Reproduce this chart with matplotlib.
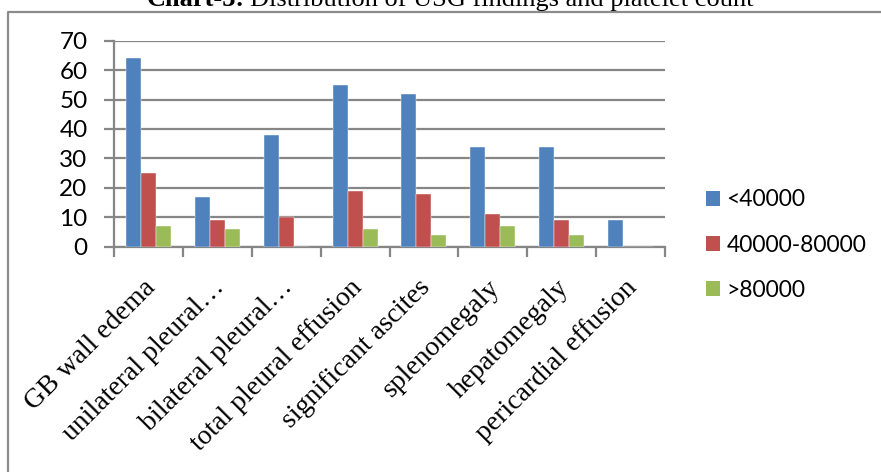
import matplotlib
matplotlib.use("Agg")
import matplotlib.pyplot as plt
import matplotlib.transforms as mtransforms
from matplotlib.patches import Patch
from matplotlib.lines import Line2D
import numpy as np

categories = ['GB wall edema', 'unilateral pleural…', 'bilateral pleural…',
              'total pleural effusion', 'significant ascites', 'splenomegaly',
              'hepatomegaly', 'pericardial effusion']
below_40k = [64, 17, 38, 55, 52, 34, 34, 9]
mid_40k_80k = [25, 9, 10, 19, 18, 11, 9, 0]
above_80k = [7, 6, 0, 6, 4, 7, 4, 0]
series_names = ['<40000', '40000-80000', '>80000']
colors = ['#4F81BD', '#C0504D', '#9BBB59']

W, H = 881, 472
fig = plt.figure(figsize=(W / 100, H / 100), dpi=100)
fig.patch.set_facecolor('white')

# caixa do gráfico (só topo e esquerda aparecem)
fig.add_artist(Line2D([8 / W, 8 / W, 1.0], [0.0, 1 - 12 / H, 1 - 12 / H],
                      transform=fig.transFigure, color='#8C8C8C', linewidth=1.6))

# título (cortado no topo, como na imagem original)
fig.text(147 / W, 1 - 6 / H, 'Chart-3:', family='Liberation Serif', fontweight='bold',
         fontsize=19, ha='left', va='baseline')
fig.text(250 / W, 1 - 6 / H, 'Distribution of USG findings and platelet count',
         family='Liberation Serif', fontsize=19, ha='left', va='baseline')

ax = fig.add_axes([114 / W, 1 - 246.7 / H, (665 - 114) / W, (246.7 - 40.7) / H])
x = np.arange(len(categories))
w = 15 / 69
for k, (vals, c, name) in enumerate(zip([below_40k, mid_40k_80k, above_80k], colors, series_names)):
    ax.bar(x + (k - 1) * w, vals, width=w, color=c, edgecolor='white', linewidth=0.3,
           label=name, zorder=3)

ax.set_xlim(-0.5, len(categories) - 0.5)
ax.set_ylim(0, 70)
ax.set_yticks(range(0, 71, 10))
ax.yaxis.grid(True, color='#868686', linewidth=1.6, zorder=0)
ax.set_axisbelow(True)

for s in ['top', 'right']:
    ax.spines[s].set_visible(False)
for s in ['left', 'bottom']:
    ax.spines[s].set_color('#868686')
    ax.spines[s].set_linewidth(1.6)

ax.set_xticks(np.arange(-0.5, len(categories), 1.0))
ax.set_xticklabels([])
ax.tick_params(axis='x', direction='out', length=7, width=1.6, color='#868686')
ax.tick_params(axis='y', direction='out', length=7, width=1.6, color='#868686',
               pad=12, labelsize=17.5)
for lbl in ax.get_yticklabels():
    lbl.set_family('Lato')

# rótulos das categorias rotacionados
for i, cat in enumerate(categories):
    trans = mtransforms.offset_copy(ax.get_xaxis_transform(), fig=fig, x=3, y=-37, units='dots')
    ax.text(i, 0, cat, transform=trans, rotation=45, rotation_mode='anchor',
            ha='right', va='center', family='Liberation Serif', fontsize=20)

handles = [Patch(facecolor=c) for c in colors]
fig.legend(handles, series_names, loc='center left', bbox_to_anchor=(706 / W, 1 - 245 / H),
           frameon=False, prop={'family': 'Lato', 'size': 16.5}, borderpad=0, borderaxespad=0,
           handlelength=0.6, handleheight=0.6, handletextpad=0.3, labelspacing=1.05)

plt.savefig('out.png', dpi=100)
